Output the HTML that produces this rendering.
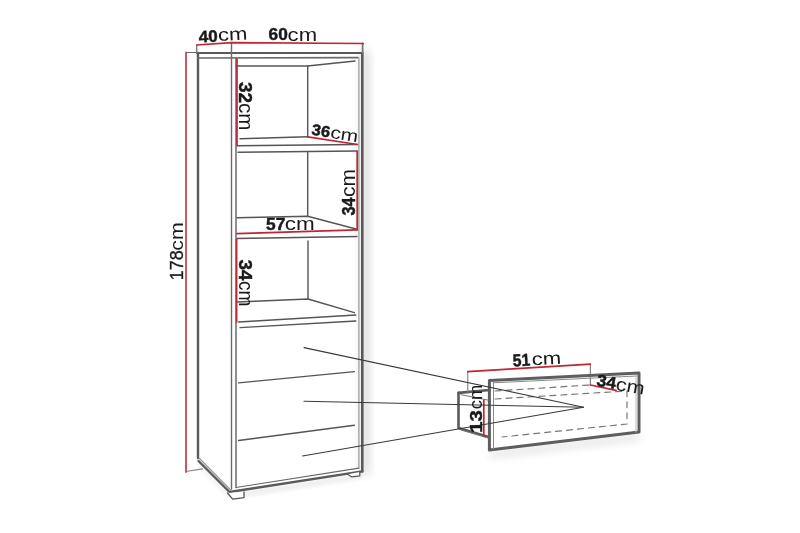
<!DOCTYPE html>
<html><head><meta charset="utf-8">
<style>
html,body{margin:0;padding:0;background:#fff;}
body{width:800px;height:533px;overflow:hidden;}
svg{display:block;filter:blur(0.3px);}
text{font-family:"Liberation Sans",sans-serif;fill:#1a1a1a;}
.b{font-weight:bold;stroke:#1a1a1a;stroke-width:0.45px;stroke-linejoin:round;}
</style></head><body>
<svg width="800" height="533" viewBox="0 0 800 533">
<defs>
<filter id="sh" x="-50%" y="-50%" width="200%" height="200%"><feGaussianBlur stdDeviation="4"/></filter>
<filter id="sh2" x="-50%" y="-50%" width="200%" height="200%"><feGaussianBlur stdDeviation="2.5"/></filter>
</defs>
<!-- shadows -->
<g opacity="0.12">
<rect x="360" y="50" width="10" height="425" fill="#000" filter="url(#sh)"/>
<polygon points="490,452 640,434 640,440 490,458" fill="#000" filter="url(#sh)"/>
</g>
<g opacity="0.10">
<polygon points="199,462 230,494 362,474 362,478 230,498 199,466" fill="#000" filter="url(#sh2)"/>
</g>

<g fill="none" stroke-linecap="round" stroke-linejoin="round">
<!-- ===== CABINET ===== -->
<g stroke="#5a5a5a">
  <path d="M197,53 L362.3,53" stroke-width="2.2"/>
  <path d="M198,53 L198,458" stroke-width="2.4"/>
  <path d="M198.5,461 L229.5,492 L362.2,471.4" stroke-width="2.4"/>
  <path d="M362.3,53 L362.3,471.4" stroke-width="2.6"/>
  <path d="M362.6,43.5 L362.6,53" stroke-width="1.8" stroke="#777"/>
</g>
<g stroke="#6a6a6a" stroke-width="1.2">
  <path d="M186,52.5 L197,52.5"/>
  <path d="M196.75,45 L196.75,53"/>
  <path d="M231.5,42.6 L231.5,489" stroke-width="1.4"/>
  <path d="M236,58 L236,487.5" stroke-width="1.5"/>
  <path d="M358.9,58 L358.9,468.1" stroke="#9a9a9a"/>
  <path d="M198,58 L358,57.6" stroke-width="1.6"/>
  <path d="M236,487.5 L358.9,468.1"/>
  <path d="M199.5,458.5 L230.7,490" stroke="#999"/>
  <path d="M186,471.5 L202.5,468.9" stroke="#888"/>
</g>
<g stroke="#555" stroke-width="1.4">
  <path d="M236,66 L307.5,66 L355,61"/>
  <path d="M307.7,66 L307.7,136.8"/>
  <path d="M240,138.8 L307.7,136.8"/>
  <path d="M237,145.8 L357,144.5"/>
  <path d="M238,152.3 L357,151"/>
  <path d="M307.7,152 L307.7,216.3"/>
  <path d="M237,217.8 L307.7,216.3 L356,229"/>
  <path d="M237,238.5 L357,236.5"/>
  <path d="M308,241 L308,299"/>
  <path d="M237,302 L308,299 L354.4,312.7"/>
  <path d="M238.6,322 L355.8,315"/>
  <path d="M240,327.6 L355.8,321"/>
  <path d="M238.6,382.9 L354.4,371.6"/>
  <path d="M238.6,440.5 L354.4,425.3"/>
</g>
<g stroke="#555" stroke-width="1.3" fill="#fff">
  <path d="M227.5,493 L232.7,499.2 L244,497.6 L244,492"/>
  <path d="M347.6,474.2 L351.5,476.8 L359.8,475.8 L359.8,472"/>
</g>
<g stroke="#bf2631" stroke-width="1.7">
  <path d="M196.75,45 L231.5,42.6 L363.3,43.5"/>
  <path d="M186,52.5 L186,472" stroke="#c9505a" stroke-width="1.9"/>
  <path d="M237,59 L237,145.5"/>
  <path d="M307.7,136.8 L357.5,144.5"/>
  <path d="M357.2,151 L357.2,229.8"/>
  <path d="M237,233.7 L357.2,229.8"/>
  <path d="M236.6,239.6 L236.6,322"/>
</g>

<!-- ===== DRAWER DETAIL ===== -->
<g stroke="#5a5a5a" stroke-width="2.6">
  <path d="M458.5,392.9 L458.5,428 L490.4,437.5"/>
  <path d="M458.5,392.9 L489.5,390"/>
</g>
<g stroke="#777" stroke-width="1">
  <path d="M461,394.7 L489.5,400.4"/>
  <path d="M461,430 L489.5,438.5"/>
  <path d="M467.8,371.6 L467.8,393"/>
</g>
<polygon points="489.4,380.5 639,373 639,432 489.4,450" fill="#fff" stroke="#5e5e5e" stroke-width="3"/>
<g stroke="#8a8a8a" stroke-width="1">
  <path d="M590.3,364.2 L590.3,385" stroke="#666"/>
  <path d="M493.5,383 L493.5,449"/>
  <path d="M493,382.8 L637,376"/>
  <path d="M636,376 L636,432" stroke="#bbb"/>
</g>
<g stroke="#777" stroke-width="1.2" stroke-dasharray="6,5">
  <path d="M495,391 L590,385"/>
  <path d="M495,399 L627,391 L627,424 L502,437"/>
</g>
<g stroke="#bf2631" stroke-width="1.7">
  <path d="M467.8,371.6 L590.3,364.2"/>
  <path d="M590.3,385 L616,390.3"/>
  <path d="M483.8,400.4 L483.8,436"/>
</g>
<!-- pointer lines -->
<g stroke="#3a3a3a" stroke-width="1.1">
  <path d="M304,347.6 L583.5,407.2"/>
  <path d="M304,401.3 L583.5,407.2"/>
  <path d="M302.5,456 L583.5,407.2"/>
</g>
</g>

<!-- ===== TEXT ===== -->
<g transform="rotate(-3 199 42.5)">
  <text class="b" x="199" y="42.5" font-size="16.5" textLength="19" lengthAdjust="spacingAndGlyphs">40</text>
  <text x="218.3" y="42" font-size="18" textLength="29.5" lengthAdjust="spacingAndGlyphs">cm</text>
</g>
<text class="b" x="268.6" y="40.4" font-size="16.2" textLength="19.2" lengthAdjust="spacingAndGlyphs">60</text>
<text x="287.6" y="40.6" font-size="18.5" textLength="29.5" lengthAdjust="spacingAndGlyphs">cm</text>

<g transform="translate(239 82) rotate(90)">
  <text class="b" x="0" y="0" font-size="18" textLength="21" lengthAdjust="spacingAndGlyphs">32</text>
  <text x="21" y="0" font-size="19.5" textLength="27.5" lengthAdjust="spacingAndGlyphs">cm</text>
</g>
<g transform="translate(311 134.5) rotate(9)">
  <text class="b" x="0" y="0" font-size="15.5" textLength="18.5" lengthAdjust="spacingAndGlyphs">36</text>
  <text x="19" y="0.3" font-size="17" textLength="28" lengthAdjust="spacingAndGlyphs">cm</text>
</g>
<g transform="translate(354.5 215.5) rotate(-90)">
  <text class="b" x="0" y="0" font-size="18.5" textLength="18" lengthAdjust="spacingAndGlyphs">34</text>
  <text x="18.5" y="0" font-size="20" textLength="28" lengthAdjust="spacingAndGlyphs">cm</text>
</g>
<text class="b" x="266" y="230.2" font-size="16.3" textLength="19.3" lengthAdjust="spacingAndGlyphs">57</text>
<text x="284.8" y="230.4" font-size="18.5" textLength="30" lengthAdjust="spacingAndGlyphs">cm</text>
<g transform="translate(238.6 259.5) rotate(90)">
  <text class="b" x="0" y="0" font-size="19" textLength="21" lengthAdjust="spacingAndGlyphs">34</text>
  <text x="21.5" y="0" font-size="19.5" textLength="25.5" lengthAdjust="spacingAndGlyphs">cm</text>
</g>
<g transform="translate(183.3 280.3) rotate(-90)">
  <text x="0" y="0" font-size="17.8" textLength="30" lengthAdjust="spacingAndGlyphs" stroke="#1a1a1a" stroke-width="0.35">178</text>
  <text x="29.5" y="0" font-size="18.8" textLength="28.5" lengthAdjust="spacingAndGlyphs">cm</text>
</g>
<g transform="rotate(-3 513 366.5)">
  <text class="b" x="513" y="366.5" font-size="17.3" textLength="17.5" lengthAdjust="spacingAndGlyphs">51</text>
  <text x="532" y="366.3" font-size="17.8" textLength="29.5" lengthAdjust="spacingAndGlyphs">cm</text>
</g>
<g transform="translate(482 432.8) rotate(-90)">
  <text class="b" x="0" y="0" font-size="17" textLength="22.5" lengthAdjust="spacingAndGlyphs">13</text>
  <text x="23.5" y="0" font-size="17.5" textLength="24.5" lengthAdjust="spacingAndGlyphs">cm</text>
</g>
<g transform="translate(596 385.5) rotate(10)">
  <text class="b" x="0" y="0" font-size="16.5" textLength="19.5" lengthAdjust="spacingAndGlyphs">34</text>
  <text x="19.5" y="0.8" font-size="18" textLength="29" lengthAdjust="spacingAndGlyphs">cm</text>
</g>
</svg>
</body></html>
